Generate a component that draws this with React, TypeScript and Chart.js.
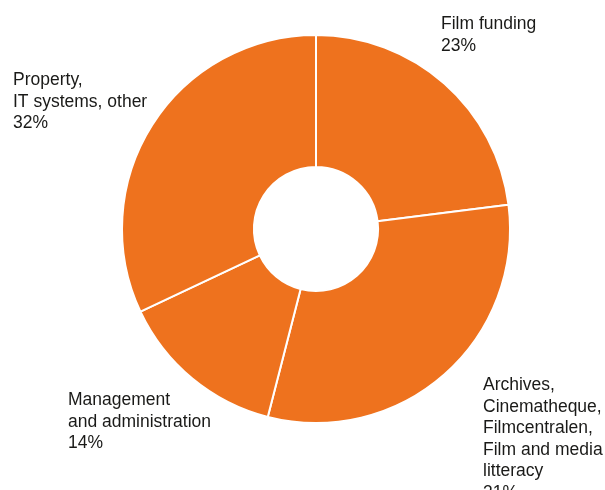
import React, { useEffect, useRef } from "react";
import { Chart, registerables } from "chart.js";

Chart.register(...registerables);

const categories: string[][] = [
  ["Film funding"],
  ["Archives,", "Cinematheque,", "Filmcentralen,", "Film and media", "litteracy"],
  ["Management", "and administration"],
  ["Property,", "IT systems, other"],
];
const shares: number[] = [23, 31, 14, 32];

const ORANGE = "#EE721E";
const TEXT = "#1a1a18";
const FONT = '17.5px "Liberation Sans", Arial, Helvetica, sans-serif';
const LINE = 21.6;

// label anchors relative to the doughnut centre (left x, first baseline y)
const labelOffsets = [
  { dx: 125, dy: -200 },
  { dx: 167, dy: 161 },
  { dx: -248, dy: 176 },
  { dx: -303, dy: -144 },
];

const labelPlugin = {
  id: "outsideLabels",
  afterDraw(chart: any) {
    const meta = chart.getDatasetMeta(0);
    const arc0 = meta.data[0];
    if (!arc0) return;
    const cx = arc0.x;
    const cy = arc0.y;
    const ctx = chart.ctx;
    ctx.save();
    ctx.font = FONT;
    ctx.fillStyle = TEXT;
    ctx.textAlign = "left";
    ctx.textBaseline = "alphabetic";
    categories.forEach((lines, i) => {
      const off = labelOffsets[i];
      const all = [...lines, `${shares[i]}%`];
      all.forEach((t, j) => {
        ctx.fillText(t, cx + off.dx, cy + off.dy + j * LINE);
      });
    });
    ctx.restore();
  },
};

export default function App() {
  const ref = useRef<HTMLCanvasElement | null>(null);
  useEffect(() => {
    if (!ref.current) return;
    const chart = new Chart(ref.current, {
      type: "doughnut",
      data: {
        labels: categories.map((c) => c.join(" ")),
        datasets: [
          {
            data: shares,
            backgroundColor: ORANGE,
            borderColor: "#ffffff",
            borderWidth: 2,
          },
        ],
      },
      options: {
        animation: false,
        responsive: false,
        cutout: "32%",
        layout: { padding: { top: 34, bottom: 66, left: 121, right: 94 } },
        plugins: {
          legend: { display: false },
          tooltip: { enabled: false },
        },
      },
      plugins: [labelPlugin],
    });
    return () => chart.destroy();
  }, []);
  return (
    <div style={{ position: "fixed", left: 0, top: 0, width: 605, height: 490, background: "#fff" }}>
      <canvas ref={ref} width={605} height={490} style={{ display: "block" }} />
    </div>
  );
}
